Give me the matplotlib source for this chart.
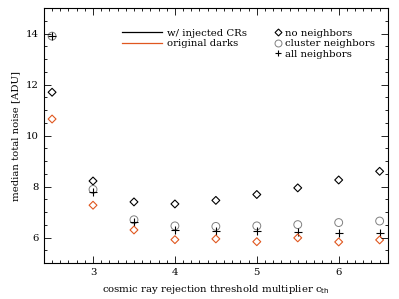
import matplotlib.pyplot as plt
from matplotlib.lines import Line2D
from matplotlib.ticker import MultipleLocator

plt.rcParams['font.family'] = 'DejaVu Serif'
plt.rcParams['font.size'] = 7.3

thresholds = [2.5, 3.0, 3.5, 4.0, 4.5, 5.0, 5.5, 6.0, 6.5]
no_neighbors = [11.7, 8.22, 7.40, 7.32, 7.46, 7.69, 7.95, 8.26, 8.60]
cluster_neighbors = [13.9, 7.89, 6.70, 6.46, 6.44, 6.46, 6.51, 6.59, 6.65]
all_neighbors = [13.9, 7.80, 6.62, 6.31, 6.27, 6.26, 6.22, 6.20, 6.20]
original_darks = [10.65, 7.27, 6.30, 5.92, 5.95, 5.84, 5.99, 5.83, 5.91]

orange = "#e0571f"

fig = plt.figure(figsize=(3.99, 2.99), dpi=100)
ax = fig.add_axes([0.11, 0.12, 0.862, 0.853])

ax.scatter(thresholds, no_neighbors, marker="D", s=16, facecolors="none",
           edgecolors="black", linewidths=0.8)
ax.scatter(thresholds, cluster_neighbors, marker="o", s=32, facecolors="none",
           edgecolors="gray", linewidths=0.7)
ax.scatter(thresholds, all_neighbors, marker="+", s=32, color="black", linewidths=0.8)
ax.scatter(thresholds, original_darks, marker="D", s=16, facecolors="none",
           edgecolors=orange, linewidths=0.8)

ax.set_xlim(2.4, 6.6)
ax.set_ylim(5, 15)
ax.xaxis.set_major_locator(MultipleLocator(1))
ax.xaxis.set_minor_locator(MultipleLocator(0.1))
ax.yaxis.set_major_locator(MultipleLocator(2))
ax.yaxis.set_minor_locator(MultipleLocator(0.5))
ax.tick_params(which="both", direction="in", top=True, right=True, width=0.6)
ax.tick_params(which="major", length=5)
ax.tick_params(which="minor", length=2.5)
for s in ax.spines.values():
    s.set_linewidth(0.8)

ax.set_xlabel("cosmic ray rejection threshold multiplier c$_{\\rm th}$")
ax.set_ylabel("median total noise [ADU]")

line_handles = [Line2D([], [], color="black", lw=0.9),
                Line2D([], [], color=orange, lw=0.9)]
leg1 = ax.legend(line_handles, ["w/ injected CRs", "original darks"],
                 loc="upper left", bbox_to_anchor=(0.2, 0.955), frameon=False,
                 handlelength=4, labelspacing=0.15, handletextpad=0.5, fontsize=7.3)
ax.add_artist(leg1)

mark_handles = [
    Line2D([], [], ls="none", marker="D", ms=3.5, mfc="none", mec="black", mew=0.8),
    Line2D([], [], ls="none", marker="o", ms=5, mfc="none", mec="gray", mew=0.7),
    Line2D([], [], ls="none", marker="+", ms=5, color="black", mew=0.8),
]
ax.legend(mark_handles, ["no neighbors", "cluster neighbors", "all neighbors"],
          loc="upper left", bbox_to_anchor=(0.643, 0.955), frameon=False,
          handlelength=0.8, labelspacing=0.15, handletextpad=0.25, fontsize=7.3)

plt.savefig("out.png", dpi=100)
